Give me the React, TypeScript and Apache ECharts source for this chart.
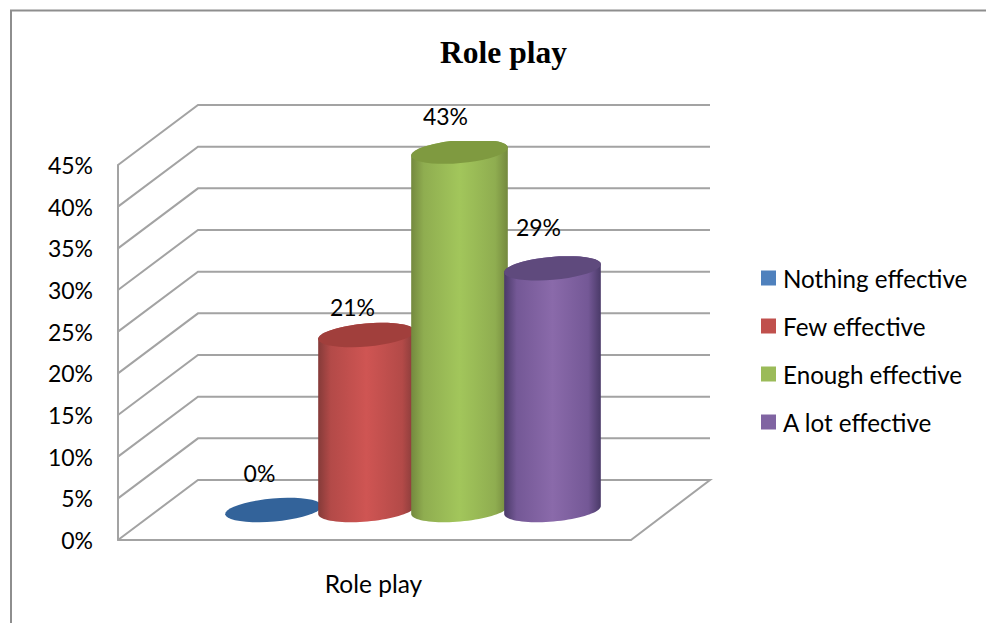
import React, { useEffect, useRef } from "react";
import * as echarts from "echarts";

const title = "Role play";
const categories = ["Role play"];
const seriesNames = ["Nothing effective", "Few effective", "Enough effective", "A lot effective"];
const seriesValues = [0, 21, 43, 29];
const yTicks = [0, 5, 10, 15, 20, 25, 30, 35, 40, 45];

const legendColors = ["#4f81bd", "#c0504d", "#9bbb59", "#8064a2"];
const edgeColors = ["#2f5f94", "#853b39", "#74893e", "#4a3a68"];
const nearColors = ["#34659b", "#b34a48", "#8fad50", "#745896"];
const midColors = ["#3a6ea5", "#cf5553", "#a2c65b", "#8a6aaa"];
const capColors = ["#33639a", "#a13f3c", "#7f9a40", "#5f4a7d"];
const labelRise = [37, 28, 36, 41];

const FONT = "Lato";
const GRID_LINE = "#a3a3a3";
const DEPTH_X = 80;
const DEPTH_Y = 60;
const RX = 48.5;
const RY = 11.5;
const TILT = (-5 * Math.PI) / 180;

function arc(cx: number, cy: number, from: number, to: number, clipY: number) {
  const pts: number[][] = [];
  const n = 40;
  for (let i = 0; i <= n; i++) {
    const t = from + ((to - from) * i) / n;
    const ex = RX * Math.cos(t);
    const ey = RY * Math.sin(t);
    const x = cx + ex * Math.cos(TILT) - ey * Math.sin(TILT);
    const y = cy + ex * Math.sin(TILT) + ey * Math.cos(TILT);
    pts.push([x, Math.max(y, clipY)]);
  }
  return pts;
}

function cylinderSeries(i: number) {
  return {
    type: "custom",
    name: seriesNames[i],
    coordinateSystem: "cartesian2d",
    itemStyle: { color: legendColors[i] },
    encode: { x: 0, y: 1 },
    data: [[0, seriesValues[i]]],
    silent: true,
    renderItem: (_: any, api: any) => {
      const top = api.coord([api.value(0), api.value(1)]);
      const base = api.coord([api.value(0), 0]);
      const clipY = api.coord([0, yTicks[yTicks.length - 1]])[1] - 24;
      const cx = base[0] - 101 + 93 * i;
      const by = base[1] - DEPTH_Y / 2;
      const ty = top[1] - DEPTH_Y / 2;
      const children: any[] = [];
      if (api.value(1) > 0) {
        children.push({
          type: "polygon",
          shape: {
            points: [
              ...arc(cx, by, 0, Math.PI, -1e4),
              ...arc(cx, ty, Math.PI, 2 * Math.PI, clipY),
            ],
          },
          style: {
            fill: new echarts.graphic.LinearGradient(0, 0, 1, 0, [
              { offset: 0, color: edgeColors[i] },
              { offset: 0.13, color: nearColors[i] },
              { offset: 0.5, color: midColors[i] },
              { offset: 0.87, color: nearColors[i] },
              { offset: 1, color: edgeColors[i] },
            ]),
          },
        });
      }
      children.push({
        type: "polygon",
        shape: { points: arc(cx, ty, 0, 2 * Math.PI, clipY) },
        style: { fill: capColors[i] },
      });
      children.push({
        type: "text",
        z2: 10,
        style: {
          x: cx - 14,
          y: ty - labelRise[i],
          text: `${api.value(1)}%`,
          align: "center",
          verticalAlign: "middle",
          fill: "#000",
          font: `23px ${FONT}`,
        },
      });
      return { type: "group", children };
    },
  };
}

const wallSeries = {
  type: "custom",
  name: "walls",
  coordinateSystem: "cartesian2d",
  encode: { x: 0, y: 1 },
  data: yTicks.map((t) => [0, t]),
  silent: true,
  renderItem: (params: any, api: any) => {
    const y = api.coord([0, api.value(1)])[1];
    const { x, width } = params.coordSys;
    return {
      type: "polyline",
      shape: {
        points: [
          [x, y],
          [x + DEPTH_X, y - DEPTH_Y],
          [x + width + DEPTH_X - 1, y - DEPTH_Y],
          ...(api.value(1) === 0 ? [[x + width, y]] : []),
        ],
      },
      style: { stroke: GRID_LINE, lineWidth: 2, fill: "none" },
    };
  },
};

export default function App() {
  const ref = useRef<HTMLDivElement>(null);
  useEffect(() => {
    const chart = echarts.init(ref.current!, undefined, { renderer: "svg" });
    chart.setOption({
      animation: false,
      backgroundColor: "#fff",
      title: {
        text: title,
        left: 503.5,
        top: 36,
        padding: 0,
        textAlign: "center",
        textStyle: { fontFamily: "Liberation Serif", fontWeight: "bold", fontSize: 31.5, color: "#000" },
      },
      legend: {
        data: seriesNames,
        orient: "vertical",
        left: 761,
        top: 266,
        padding: 0,
        icon: "rect",
        itemWidth: 15,
        itemHeight: 15,
        itemGap: 24,
        selectedMode: false,
        textStyle: { fontFamily: FONT, fontSize: 24.2, lineHeight: 24, color: "#000", padding: [0, 0, 0, 2] },
      },
      grid: { left: 118, top: 165, width: 513, height: 375, containLabel: false },
      xAxis: {
        type: "category",
        data: categories,
        axisTick: { show: false },
        axisLine: { show: true, lineStyle: { color: GRID_LINE, width: 2 } },
        axisLabel: { margin: 31, fontFamily: FONT, fontSize: 24.5, color: "#000", padding: [0, 2, 0, 0] },
      },
      yAxis: {
        type: "value",
        min: 0,
        max: 45,
        interval: 5,
        axisTick: { show: false },
        splitLine: { show: false },
        axisLine: { show: true, lineStyle: { color: GRID_LINE, width: 2 } },
        axisLabel: {
          margin: 25,
          fontFamily: FONT,
          fontSize: 23,
          color: "#000",
          padding: [4, 0, 0, 0],
          formatter: "{value}%",
        },
      },
      graphic: [
        {
          type: "polyline",
          shape: { points: [[11, 640], [11, 10.5], [1000, 10.5]] },
          style: { stroke: "#8e8e8e", lineWidth: 2, fill: "none" },
        },
      ],
      series: [wallSeries, ...seriesNames.map((_, i) => cylinderSeries(i))],
    });
    return () => chart.dispose();
  }, []);
  return (
    <div
      ref={ref}
      style={{ position: "fixed", left: 0, top: 0, width: 986, height: 623, background: "#fff" }}
    />
  );
}
